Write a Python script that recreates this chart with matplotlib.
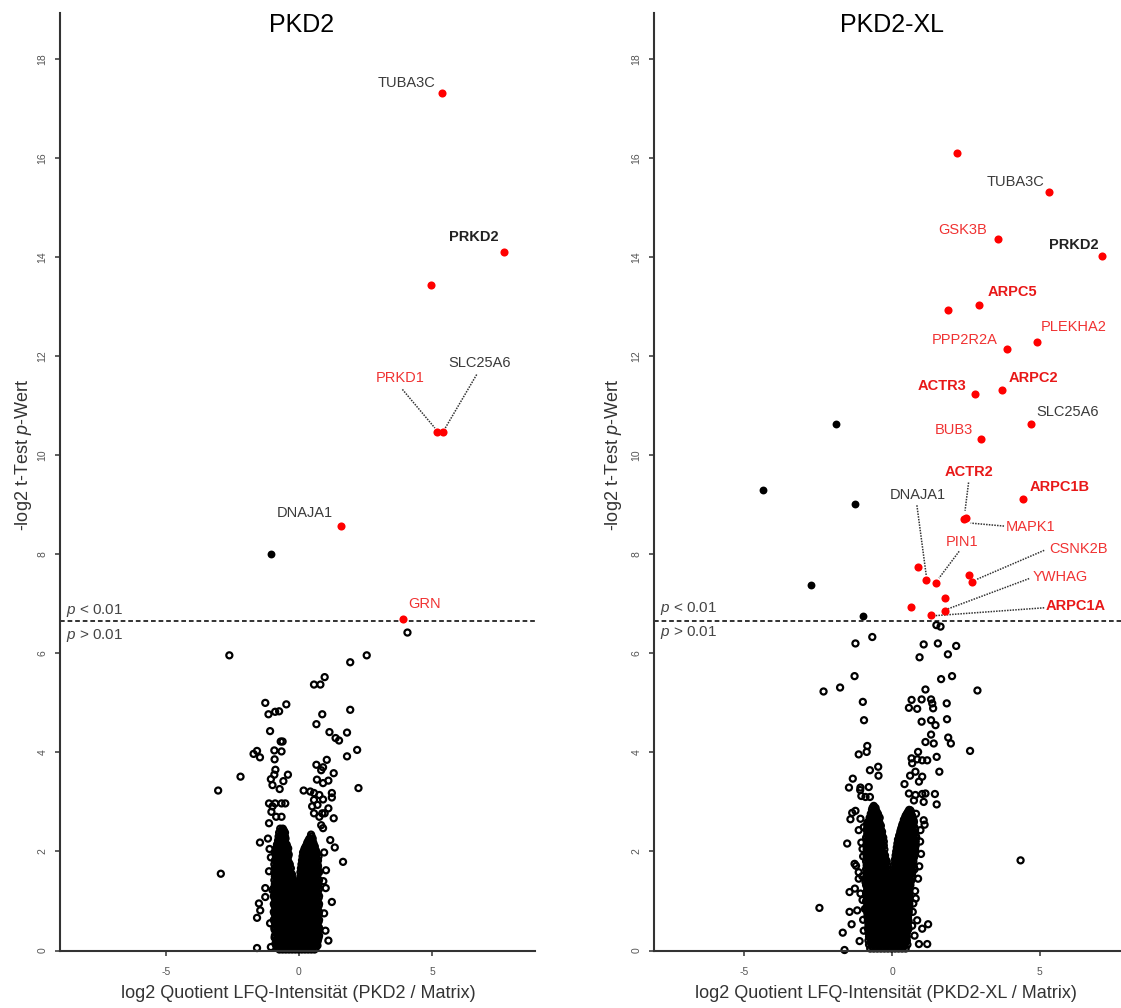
import matplotlib
matplotlib.use("Agg")
import matplotlib.pyplot as plt

# ---------------- DATA ----------------
# PKD2 panel: significant hits
pkd2_red_x = [5.36, 7.69, 4.95, 5.18, 5.40, 1.58, 3.92]
pkd2_red_y = [17.31, 14.10, 13.43, 10.46, 10.46, 8.57, 6.69]
pkd2_red_names = ["TUBA3C", "PRKD2", "", "PRKD1", "SLC25A6", "DNAJA1", "GRN"]
pkd2_black_x = [-1.05]
pkd2_black_y = [8.00]

# PKD2 panel: non-significant proteins (scattered)
pkd2_ns_outer = [
    (4.08, 6.42), (-2.61, 5.96), (2.55, 5.96), (1.93, 5.82), (0.97, 5.52), (0.57, 5.37), (0.81, 5.37),
    (-1.26, 5.00), (-0.47, 4.97), (-1.14, 4.77), (-0.89, 4.82), (-0.74, 4.83), (1.93, 4.86), (0.88, 4.77),
    (0.66, 4.57), (-1.08, 4.43), (1.15, 4.41), (1.38, 4.29), (1.51, 4.24), (1.81, 4.40), (-0.68, 4.22),
    (-0.61, 4.22), (2.19, 4.05), (-1.70, 3.97), (-1.57, 4.03), (-1.46, 3.90), (-0.92, 4.04), (-0.65, 4.02),
    (-0.91, 3.86), (1.05, 3.85), (1.81, 3.92), (0.66, 3.75), (0.91, 3.70), (0.84, 3.64), (1.31, 3.58),
    (-2.19, 3.51), (-0.88, 3.65), (-0.92, 3.55), (-1.05, 3.46), (-0.41, 3.55), (-0.58, 3.42), (0.68, 3.45),
    (1.11, 3.43), (0.91, 3.38), (-0.99, 3.34), (-0.72, 3.26), (2.24, 3.28), (-3.03, 3.23), (0.18, 3.23),
    (0.43, 3.21), (0.57, 3.18), (0.77, 3.14), (1.24, 3.18), (1.24, 3.09), (-1.12, 2.97), (-0.89, 2.97),
    (-0.65, 2.97), (-0.51, 2.97), (0.57, 3.04), (0.70, 2.94), (0.91, 3.05), (0.50, 2.91), (1.11, 2.87),
    (-0.99, 2.91), (-1.03, 2.80), (-0.85, 2.70), (-0.65, 2.70), (0.57, 2.77), (0.77, 2.70), (0.88, 2.77),
    (0.97, 2.77), (1.31, 2.67), (-1.12, 2.57), (0.84, 2.53), (0.91, 2.47), (-1.46, 2.18), (-1.16, 2.26),
    (1.18, 2.23), (1.35, 2.08), (1.66, 1.79), (-2.93, 1.55), (-1.26, 1.26), (-0.99, 1.22), (-1.26, 1.08),
    (1.01, 1.26), (1.24, 0.98), (-1.50, 0.95), (-1.45, 0.81), (-1.57, 0.66), (1.11, 0.20), (-1.57, 0.05),
    (-1.05, 0.07), (-0.85, 0.14), (-1.10, 2.05), (-1.05, 1.88), (-1.12, 1.60), (0.95, 1.98), (1.02, 1.62),
    (0.92, 1.40), (-1.08, 0.55), (1.00, 0.40), (0.95, 0.75),
]
# PKD2 panel: dense core, read row by row (y, x positions)
pkd2_ns_core_rows = [
    (2.46, [-0.70, -0.60]),
    (2.42, [-0.66, -0.56]),
    (2.38, [-0.74, -0.62, -0.52]),
    (2.34, [-0.68, -0.58, 0.46]),
    (2.30, [-0.76, -0.64, -0.52, 0.48]),
    (2.26, [-0.72, -0.60, -0.50, 0.40, 0.52]),
    (2.22, [-0.78, -0.66, -0.54, 0.36, 0.48]),
    (2.18, [-0.76, -0.64, -0.52, 0.32, 0.44, 0.54]),
    (2.14, [-0.82, -0.70, -0.58, -0.46, 0.30, 0.42, 0.56]),
    (2.10, [-0.80, -0.68, -0.56, -0.44, 0.26, 0.38, 0.50, 0.60]),
    (2.06, [-0.86, -0.74, -0.62, -0.50, -0.40, 0.22, 0.34, 0.46, 0.58]),
    (2.02, [-0.84, -0.72, -0.60, -0.48, 0.20, 0.30, 0.42, 0.54, 0.64]),
    (1.98, [-0.90, -0.78, -0.66, -0.54, -0.42, 0.16, 0.28, 0.40, 0.52, 0.64]),
    (1.94, [-0.84, -0.72, -0.60, -0.48, -0.38, 0.20, 0.32, 0.44, 0.56, 0.68]),
    (1.90, [-0.86, -0.74, -0.62, -0.50, -0.40, 0.14, 0.26, 0.38, 0.50, 0.62, 0.74]),
    (1.86, [-0.80, -0.68, -0.56, -0.44, 0.18, 0.30, 0.42, 0.54, 0.66]),
    (1.82, [-0.90, -0.78, -0.66, -0.54, -0.42, 0.12, 0.24, 0.36, 0.48, 0.60, 0.72]),
    (1.78, [-0.84, -0.72, -0.60, -0.48, -0.38, 0.16, 0.28, 0.40, 0.52, 0.64]),
    (1.74, [-0.92, -0.80, -0.68, -0.56, -0.44, -0.34, 0.10, 0.22, 0.34, 0.46, 0.58, 0.70]),
    (1.70, [-0.86, -0.74, -0.62, -0.50, -0.38, 0.14, 0.26, 0.38, 0.50, 0.62, 0.72]),
    (1.66, [-0.90, -0.78, -0.66, -0.54, -0.42, -0.30, 0.08, 0.20, 0.32, 0.44, 0.56, 0.68]),
    (1.62, [-0.84, -0.72, -0.60, -0.48, -0.36, 0.12, 0.24, 0.36, 0.48, 0.60, 0.72]),
    (1.58, [-0.92, -0.80, -0.68, -0.56, -0.44, -0.32, 0.06, 0.18, 0.30, 0.42, 0.54, 0.66, 0.76]),
    (1.54, [-0.86, -0.74, -0.62, -0.50, -0.38, -0.26, 0.12, 0.24, 0.36, 0.48, 0.60, 0.70]),
    (1.50, [-0.90, -0.78, -0.66, -0.54, -0.42, -0.28, 0.06, 0.18, 0.30, 0.42, 0.54, 0.66]),
    (1.46, [-0.84, -0.72, -0.60, -0.48, -0.36, -0.24, 0.10, 0.22, 0.34, 0.46, 0.58, 0.70]),
    (1.42, [-0.92, -0.80, -0.68, -0.56, -0.44, -0.32, -0.20, 0.04, 0.16, 0.28, 0.40, 0.52, 0.64, 0.76]),
    (1.38, [-0.86, -0.74, -0.62, -0.50, -0.38, -0.26, -0.16, 0.08, 0.20, 0.32, 0.44, 0.56, 0.68]),
    (1.34, [-0.90, -0.78, -0.66, -0.54, -0.42, -0.30, -0.18, 0.02, 0.14, 0.26, 0.38, 0.50, 0.62, 0.74]),
    (1.30, [-0.84, -0.72, -0.60, -0.48, -0.36, -0.24, -0.14, 0.08, 0.20, 0.32, 0.44, 0.56, 0.68]),
    (1.26, [-0.94, -0.82, -0.70, -0.58, -0.46, -0.34, -0.22, -0.10, 0.02, 0.14, 0.26, 0.38, 0.50, 0.62, 0.76]),
    (1.22, [-0.91, -0.79, -0.67, -0.55, -0.43, -0.31, -0.19, -0.07, 0.05, 0.17, 0.29, 0.41, 0.53, 0.65, 0.74]),
    (1.18, [-0.88, -0.76, -0.64, -0.52, -0.40, -0.28, -0.16, -0.04, 0.08, 0.20, 0.32, 0.44, 0.56, 0.68]),
    (1.14, [-0.85, -0.73, -0.61, -0.49, -0.37, -0.25, -0.13, -0.01, 0.11, 0.23, 0.35, 0.47, 0.59, 0.70]),
    (1.10, [-0.94, -0.82, -0.70, -0.58, -0.46, -0.34, -0.22, -0.10, 0.02, 0.14, 0.26, 0.38, 0.50, 0.62, 0.76]),
    (1.06, [-0.91, -0.79, -0.67, -0.55, -0.43, -0.31, -0.19, -0.07, 0.05, 0.17, 0.29, 0.41, 0.53, 0.65, 0.74]),
    (1.02, [-0.88, -0.76, -0.64, -0.52, -0.40, -0.28, -0.16, -0.04, 0.08, 0.20, 0.32, 0.44, 0.56, 0.68]),
    (0.98, [-0.85, -0.73, -0.61, -0.49, -0.37, -0.25, -0.13, -0.01, 0.11, 0.23, 0.35, 0.47, 0.59, 0.70]),
    (0.94, [-0.94, -0.82, -0.70, -0.58, -0.46, -0.34, -0.22, -0.10, 0.02, 0.14, 0.26, 0.38, 0.50, 0.62, 0.76]),
    (0.90, [-0.91, -0.79, -0.67, -0.55, -0.43, -0.31, -0.19, -0.07, 0.05, 0.17, 0.29, 0.41, 0.53, 0.65, 0.74]),
    (0.86, [-0.88, -0.76, -0.64, -0.52, -0.40, -0.28, -0.16, -0.04, 0.08, 0.20, 0.32, 0.44, 0.56, 0.68]),
    (0.82, [-0.85, -0.73, -0.61, -0.49, -0.37, -0.25, -0.13, -0.01, 0.11, 0.23, 0.35, 0.47, 0.59, 0.70]),
    (0.78, [-0.94, -0.82, -0.70, -0.58, -0.46, -0.34, -0.22, -0.10, 0.02, 0.14, 0.26, 0.38, 0.50, 0.62, 0.76]),
    (0.74, [-0.91, -0.79, -0.67, -0.55, -0.43, -0.31, -0.19, -0.07, 0.05, 0.17, 0.29, 0.41, 0.53, 0.65, 0.74]),
    (0.70, [-0.88, -0.76, -0.64, -0.52, -0.40, -0.28, -0.16, -0.04, 0.08, 0.20, 0.32, 0.44, 0.56, 0.68]),
    (0.66, [-0.85, -0.73, -0.61, -0.49, -0.37, -0.25, -0.13, -0.01, 0.11, 0.23, 0.35, 0.47, 0.59, 0.70]),
    (0.62, [-0.94, -0.82, -0.70, -0.58, -0.46, -0.34, -0.22, -0.10, 0.02, 0.14, 0.26, 0.38, 0.50, 0.62, 0.76]),
    (0.58, [-0.91, -0.79, -0.67, -0.55, -0.43, -0.31, -0.19, -0.07, 0.05, 0.17, 0.29, 0.41, 0.53, 0.65, 0.74]),
    (0.54, [-0.88, -0.76, -0.64, -0.52, -0.40, -0.28, -0.16, -0.04, 0.08, 0.20, 0.32, 0.44, 0.56, 0.68]),
    (0.50, [-0.85, -0.73, -0.61, -0.49, -0.37, -0.25, -0.13, -0.01, 0.11, 0.23, 0.35, 0.47, 0.59, 0.70]),
    (0.46, [-0.92, -0.80, -0.68, -0.56, -0.44, -0.32, -0.20, -0.08, 0.04, 0.16, 0.28, 0.40, 0.52, 0.64, 0.76]),
    (0.42, [-0.91, -0.79, -0.67, -0.55, -0.43, -0.31, -0.19, -0.07, 0.05, 0.17, 0.29, 0.41, 0.53, 0.65, 0.74]),
    (0.38, [-0.86, -0.74, -0.62, -0.50, -0.38, -0.26, -0.14, -0.02, 0.10, 0.22, 0.34, 0.46, 0.58, 0.70]),
    (0.34, [-0.85, -0.73, -0.61, -0.49, -0.37, -0.25, -0.13, -0.01, 0.11, 0.23, 0.35, 0.47, 0.59, 0.70]),
    (0.30, [-0.90, -0.78, -0.66, -0.54, -0.42, -0.30, -0.18, -0.06, 0.06, 0.18, 0.30, 0.42, 0.54, 0.66, 0.76]),
    (0.26, [-0.91, -0.79, -0.67, -0.55, -0.43, -0.31, -0.19, -0.07, 0.05, 0.17, 0.29, 0.41, 0.53, 0.65, 0.74]),
    (0.22, [-0.84, -0.72, -0.60, -0.48, -0.36, -0.24, -0.12, 0.00, 0.12, 0.24, 0.36, 0.48, 0.60, 0.72]),
    (0.18, [-0.85, -0.73, -0.61, -0.49, -0.37, -0.25, -0.13, -0.01, 0.11, 0.23, 0.35, 0.47, 0.59, 0.70]),
    (0.14, [-0.88, -0.76, -0.64, -0.52, -0.40, -0.28, -0.16, -0.04, 0.08, 0.20, 0.32, 0.44, 0.56, 0.68]),
    (0.10, [-0.85, -0.73, -0.61, -0.49, -0.37, -0.25, -0.13, -0.01, 0.11, 0.23, 0.35, 0.47, 0.59, 0.70]),
    (0.06, [-0.80, -0.68, -0.56, -0.44, -0.32, -0.20, -0.08, 0.04, 0.16, 0.28, 0.40, 0.52, 0.64]),
    (0.02, [-0.73, -0.61, -0.49, -0.37, -0.25, -0.13, -0.01, 0.11, 0.23, 0.35, 0.47, 0.59]),
]

# PKD2-XL panel: significant hits
xl_red_x = [2.19, 5.32, 3.57, 7.12, 1.91, 2.95, 3.89, 4.90, 2.81, 3.71, 4.72, 3.01, 4.43,
            2.50, 2.43, 0.88, 1.16, 1.49, 2.62, 2.72, 1.78, 0.65, 1.78, 1.31]
xl_red_y = [16.11, 15.31, 14.37, 14.03, 12.93, 13.03, 12.14, 12.28, 11.23, 11.31, 10.64, 10.32, 9.11,
            8.73, 8.71, 7.74, 7.48, 7.43, 7.58, 7.45, 7.11, 6.94, 6.86, 6.77]
xl_red_names = ["", "TUBA3C", "GSK3B", "PRKD2", "", "ARPC5", "PPP2R2A", "PLEKHA2", "ACTR3", "ARPC2",
                "SLC25A6", "BUB3", "ARPC1B", "ACTR2", "MAPK1", "", "DNAJA1", "PIN1", "", "CSNK2B",
                "", "", "YWHAG", "ARPC1A"]
xl_black_x = [-1.91, -4.37, -1.25, -2.76, -0.97]
xl_black_y = [10.64, 9.30, 9.02, 7.39, 6.76]

xl_ns_outer = [
    (1.50, 6.57), (1.64, 6.54), (-0.67, 6.33), (-1.24, 6.20), (1.07, 6.18), (1.55, 6.20), (2.17, 6.15),
    (1.89, 5.98), (0.93, 5.92), (-1.27, 5.54), (2.03, 5.54), (1.66, 5.48), (-2.32, 5.23), (-1.76, 5.31),
    (1.13, 5.27), (2.89, 5.25), (0.66, 5.06), (1.00, 5.07), (1.32, 5.07), (1.36, 4.99), (1.85, 4.99),
    (-0.99, 5.02), (0.57, 4.90), (0.85, 4.88), (1.39, 4.89), (-0.95, 4.65), (1.00, 4.62), (1.32, 4.65),
    (1.47, 4.55), (1.86, 4.67), (1.32, 4.36), (1.90, 4.30), (1.13, 4.21), (1.41, 4.18), (1.99, 4.18),
    (-0.84, 4.13), (-0.86, 4.01), (-1.13, 3.96), (2.64, 4.03), (0.88, 4.01), (1.51, 3.91), (0.66, 3.88),
    (0.85, 3.86), (1.02, 3.84), (1.19, 3.84), (0.68, 3.78), (1.60, 3.61), (-0.47, 3.71), (-0.75, 3.64),
    (-0.46, 3.53), (-1.33, 3.47), (0.61, 3.53), (0.79, 3.61), (1.02, 3.51), (0.42, 3.36), (0.91, 3.41),
    (-1.46, 3.29), (-1.07, 3.29), (-0.79, 3.30), (-1.04, 3.12), (-0.90, 3.10), (-0.75, 3.10), (-1.08, 3.24),
    (0.57, 3.17), (0.79, 3.14), (1.02, 3.16), (1.13, 3.17), (1.45, 3.16), (1.51, 2.95), (0.74, 3.03),
    (1.07, 3.00), (-1.35, 2.78), (-1.41, 2.65), (-1.24, 2.82), (-1.07, 2.66), (-0.84, 2.58), (-0.67, 2.55),
    (-0.96, 2.49), (-0.81, 2.43), (-1.13, 2.43), (0.62, 2.83), (0.81, 2.76), (1.07, 2.63), (1.10, 2.54),
    (0.96, 2.43), (-1.52, 2.16), (-1.04, 2.18), (-1.27, 1.75), (-1.13, 1.58), (-1.01, 1.50), (-1.22, 1.71),
    (-0.90, 1.38), (-0.84, 1.21), (4.35, 1.82), (-1.44, 1.18), (-1.26, 1.25), (-1.13, 1.45), (-1.07, 1.15),
    (-2.46, 0.86), (-1.44, 0.78), (-1.18, 0.81), (-0.92, 0.84), (-1.37, 0.53), (-1.67, 0.36), (-1.10, 0.19),
    (-1.61, 0.01), (1.22, 0.53), (0.85, 0.61), (1.02, 0.44), (0.91, 0.13), (1.19, 0.13), (0.09, 1.52),
    (0.23, 1.96), (0.28, 1.75), (-1.00, 2.05), (-0.98, 1.90), (0.95, 2.20), (0.98, 1.95), (0.92, 1.70),
    (0.88, 1.45), (0.78, 1.20), (0.72, 0.95), (-1.00, 1.02), (-0.98, 0.62), (-0.96, 0.40), (0.70, 0.78),
    (0.76, 0.30), (0.68, 0.50), (0.80, 1.05),
]
# PKD2-XL panel: dense core, read row by row (y, x positions)
xl_ns_core_rows = [
    (2.92, [-0.62]),
    (2.88, [-0.66, -0.56]),
    (2.84, [-0.68, -0.56, 0.58]),
    (2.80, [-0.64, -0.52, 0.54, 0.64]),
    (2.76, [-0.72, -0.60, -0.48, 0.50, 0.62]),
    (2.72, [-0.70, -0.58, -0.46, 0.46, 0.58, 0.68]),
    (2.68, [-0.76, -0.64, -0.52, -0.42, 0.44, 0.56, 0.68]),
    (2.64, [-0.74, -0.62, -0.50, 0.40, 0.50, 0.62, 0.72]),
    (2.60, [-0.80, -0.68, -0.56, -0.44, 0.40, 0.52, 0.64, 0.74]),
    (2.56, [-0.78, -0.66, -0.54, -0.42, 0.36, 0.48, 0.60, 0.72]),
    (2.52, [-0.84, -0.72, -0.60, -0.48, -0.38, 0.34, 0.46, 0.58, 0.70]),
    (2.48, [-0.80, -0.68, -0.56, -0.44, 0.32, 0.42, 0.54, 0.66, 0.76]),
    (2.44, [-0.86, -0.74, -0.62, -0.50, -0.38, 0.30, 0.42, 0.54, 0.66, 0.78]),
    (2.40, [-0.80, -0.68, -0.56, -0.44, -0.34, 0.28, 0.36, 0.48, 0.60, 0.72]),
    (2.36, [-0.84, -0.72, -0.60, -0.48, -0.36, 0.28, 0.40, 0.52, 0.64, 0.76]),
    (2.32, [-0.82, -0.70, -0.58, -0.46, -0.34, 0.24, 0.34, 0.46, 0.58, 0.70, 0.80]),
    (2.28, [-0.88, -0.76, -0.64, -0.52, -0.40, -0.30, 0.24, 0.36, 0.48, 0.60, 0.72, 0.82]),
    (2.24, [-0.82, -0.70, -0.58, -0.46, -0.34, 0.20, 0.30, 0.42, 0.54, 0.66, 0.76]),
    (2.20, [-0.86, -0.74, -0.62, -0.50, -0.38, -0.28, 0.22, 0.34, 0.46, 0.58, 0.70, 0.80]),
    (2.16, [-0.82, -0.70, -0.58, -0.46, -0.34, 0.18, 0.28, 0.40, 0.52, 0.64, 0.76]),
    (2.12, [-0.88, -0.76, -0.64, -0.52, -0.40, -0.28, 0.20, 0.32, 0.44, 0.56, 0.68, 0.80]),
    (2.08, [-0.82, -0.70, -0.58, -0.46, -0.34, 0.16, 0.26, 0.38, 0.50, 0.62, 0.74]),
    (2.04, [-0.86, -0.74, -0.62, -0.50, -0.38, -0.26, 0.18, 0.30, 0.42, 0.54, 0.66, 0.78]),
    (2.00, [-0.82, -0.70, -0.58, -0.46, -0.34, 0.14, 0.24, 0.36, 0.48, 0.60, 0.72]),
    (1.96, [-0.88, -0.76, -0.64, -0.52, -0.40, -0.28, 0.16, 0.28, 0.40, 0.52, 0.64, 0.76]),
    (1.92, [-0.82, -0.70, -0.58, -0.46, -0.34, -0.24, 0.12, 0.22, 0.34, 0.46, 0.58, 0.70]),
    (1.88, [-0.86, -0.74, -0.62, -0.50, -0.38, -0.26, 0.14, 0.26, 0.38, 0.50, 0.62, 0.74]),
    (1.84, [-0.82, -0.70, -0.58, -0.46, -0.34, -0.22, 0.10, 0.20, 0.32, 0.44, 0.56, 0.68]),
    (1.80, [-0.88, -0.76, -0.64, -0.52, -0.40, -0.28, -0.18, 0.12, 0.24, 0.36, 0.48, 0.60, 0.72]),
    (1.76, [-0.82, -0.70, -0.58, -0.46, -0.34, -0.22, 0.10, 0.18, 0.30, 0.42, 0.54, 0.66]),
    (1.72, [-0.86, -0.74, -0.62, -0.50, -0.38, -0.26, -0.16, 0.12, 0.22, 0.34, 0.46, 0.58, 0.70]),
    (1.68, [-0.82, -0.70, -0.58, -0.46, -0.34, -0.22, 0.10, 0.18, 0.28, 0.40, 0.52, 0.64, 0.74]),
    (1.64, [-0.88, -0.76, -0.64, -0.52, -0.40, -0.28, -0.16, 0.12, 0.20, 0.30, 0.42, 0.54, 0.66, 0.76]),
    (1.60, [-0.82, -0.70, -0.58, -0.46, -0.34, -0.22, -0.12, 0.10, 0.18, 0.26, 0.38, 0.50, 0.62]),
    (1.56, [-0.86, -0.74, -0.62, -0.50, -0.38, -0.26, -0.14, 0.12, 0.20, 0.32, 0.44, 0.56, 0.68]),
    (1.52, [-0.82, -0.70, -0.58, -0.46, -0.34, -0.22, -0.12, 0.10, 0.16, 0.26, 0.38, 0.50, 0.62]),
    (1.48, [-0.88, -0.76, -0.64, -0.52, -0.40, -0.28, -0.16, 0.10, 0.20, 0.32, 0.44, 0.56, 0.68]),
    (1.44, [-0.82, -0.70, -0.58, -0.46, -0.34, -0.22, -0.12, 0.10, 0.16, 0.26, 0.38, 0.50, 0.60]),
    (1.40, [-0.84, -0.72, -0.60, -0.48, -0.36, -0.24, -0.14, 0.10, 0.20, 0.30, 0.42, 0.54, 0.64]),
    (1.36, [-0.82, -0.70, -0.58, -0.46, -0.34, -0.22, -0.12, 0.08, 0.14, 0.24, 0.36, 0.48, 0.58]),
    (1.32, [-0.88, -0.76, -0.64, -0.52, -0.40, -0.28, -0.16, 0.08, 0.18, 0.30, 0.42, 0.54, 0.62]),
    (1.28, [-0.82, -0.70, -0.58, -0.46, -0.34, -0.22, -0.10, 0.06, 0.14, 0.24, 0.36, 0.48, 0.58]),
    (1.24, [-0.84, -0.72, -0.60, -0.48, -0.36, -0.24, -0.12, 0.00, 0.12, 0.24, 0.36, 0.48, 0.58]),
    (1.20, [-0.82, -0.70, -0.58, -0.46, -0.34, -0.22, -0.10, 0.02, 0.14, 0.26, 0.38, 0.50, 0.58]),
    (1.16, [-0.88, -0.76, -0.64, -0.52, -0.40, -0.28, -0.16, -0.04, 0.08, 0.20, 0.32, 0.44, 0.56]),
    (1.12, [-0.82, -0.70, -0.58, -0.46, -0.34, -0.22, -0.10, 0.02, 0.14, 0.26, 0.38, 0.50, 0.58]),
    (1.08, [-0.84, -0.72, -0.60, -0.48, -0.36, -0.24, -0.12, 0.00, 0.12, 0.24, 0.36, 0.48, 0.58]),
    (1.04, [-0.82, -0.70, -0.58, -0.46, -0.34, -0.22, -0.10, 0.02, 0.14, 0.26, 0.38, 0.50, 0.58]),
    (1.00, [-0.88, -0.76, -0.64, -0.52, -0.40, -0.28, -0.16, -0.04, 0.08, 0.20, 0.32, 0.44, 0.56]),
    (0.96, [-0.82, -0.70, -0.58, -0.46, -0.34, -0.22, -0.10, 0.02, 0.14, 0.26, 0.38, 0.50, 0.58]),
    (0.92, [-0.84, -0.72, -0.60, -0.48, -0.36, -0.24, -0.12, 0.00, 0.12, 0.24, 0.36, 0.48, 0.58]),
    (0.88, [-0.82, -0.70, -0.58, -0.46, -0.34, -0.22, -0.10, 0.02, 0.14, 0.26, 0.38, 0.50, 0.58]),
    (0.84, [-0.86, -0.76, -0.64, -0.52, -0.40, -0.28, -0.16, -0.04, 0.08, 0.20, 0.32, 0.44, 0.56]),
    (0.80, [-0.82, -0.70, -0.58, -0.46, -0.34, -0.22, -0.10, 0.02, 0.14, 0.26, 0.38, 0.50, 0.56]),
    (0.76, [-0.84, -0.72, -0.60, -0.48, -0.36, -0.24, -0.12, 0.00, 0.12, 0.24, 0.36, 0.48, 0.56]),
    (0.72, [-0.80, -0.70, -0.58, -0.46, -0.34, -0.22, -0.10, 0.02, 0.14, 0.26, 0.38, 0.50]),
    (0.68, [-0.84, -0.76, -0.64, -0.52, -0.40, -0.28, -0.16, -0.04, 0.08, 0.20, 0.32, 0.44, 0.54]),
    (0.64, [-0.80, -0.70, -0.58, -0.46, -0.34, -0.22, -0.10, 0.02, 0.14, 0.26, 0.38, 0.50]),
    (0.60, [-0.82, -0.72, -0.60, -0.48, -0.36, -0.24, -0.12, 0.00, 0.12, 0.24, 0.36, 0.48, 0.56]),
    (0.56, [-0.76, -0.64, -0.52, -0.40, -0.28, -0.16, -0.04, 0.08, 0.20, 0.32, 0.44, 0.54]),
    (0.52, [-0.80, -0.70, -0.58, -0.46, -0.34, -0.22, -0.10, 0.02, 0.14, 0.26, 0.38, 0.50]),
    (0.48, [-0.76, -0.64, -0.52, -0.40, -0.28, -0.16, -0.04, 0.08, 0.20, 0.32, 0.44, 0.54]),
    (0.44, [-0.82, -0.72, -0.60, -0.48, -0.36, -0.24, -0.12, 0.00, 0.12, 0.24, 0.36, 0.48, 0.56]),
    (0.40, [-0.76, -0.64, -0.52, -0.40, -0.28, -0.16, -0.04, 0.08, 0.20, 0.32, 0.44, 0.52]),
    (0.36, [-0.80, -0.70, -0.58, -0.46, -0.34, -0.22, -0.10, 0.02, 0.14, 0.26, 0.38, 0.50]),
    (0.32, [-0.74, -0.62, -0.50, -0.38, -0.26, -0.14, -0.02, 0.10, 0.22, 0.34, 0.46]),
    (0.28, [-0.78, -0.68, -0.56, -0.44, -0.32, -0.20, -0.08, 0.04, 0.16, 0.28, 0.40, 0.50]),
    (0.24, [-0.74, -0.62, -0.50, -0.38, -0.26, -0.14, -0.02, 0.10, 0.22, 0.34, 0.46]),
    (0.20, [-0.80, -0.70, -0.58, -0.46, -0.34, -0.22, -0.10, 0.02, 0.14, 0.26, 0.38, 0.50]),
    (0.16, [-0.72, -0.60, -0.48, -0.36, -0.24, -0.12, 0.00, 0.12, 0.24, 0.36, 0.46]),
    (0.12, [-0.78, -0.66, -0.54, -0.42, -0.30, -0.18, -0.06, 0.06, 0.18, 0.30, 0.42, 0.52]),
    (0.08, [-0.68, -0.56, -0.44, -0.32, -0.20, -0.08, 0.04, 0.16, 0.28, 0.40]),
    (0.04, [-0.74, -0.62, -0.50, -0.38, -0.26, -0.14, -0.02, 0.10, 0.22, 0.34, 0.46]),
]

p_threshold = 6.644  # -log2(0.01)
y_ticks = [0, 2, 4, 6, 8, 10, 12, 14, 16, 18]
x_ticks = [-5, 0, 5]
titles = ["PKD2", "PKD2-XL"]
xlabels = ["log2 Quotient LFQ-Intensität (PKD2 / Matrix)",
           "log2 Quotient LFQ-Intensität (PKD2-XL / Matrix)"]
ylabel = r"-log2 t-Test $\it{p}$-Wert"

# ---------------- LAYOUT (label placement / styles) ----------------
# name: (text_x, text_y, ha, style, leader or None)
pkd2_labels = {
    "TUBA3C": (5.11, 17.52, "right", "gray", None),
    "PRKD2": (6.58, 14.40, "center", "gray_bold", None),
    "PRKD1": (3.80, 11.56, "center", "red", ((3.89, 11.33), (5.11, 10.55))),
    "SLC25A6": (6.80, 11.86, "center", "gray", ((6.68, 11.63), (5.50, 10.55))),
    "DNAJA1": (0.23, 8.83, "center", "gray", None),
    "GRN": (4.73, 6.99, "center", "red", None),
}
xl_labels = {
    "TUBA3C": (5.15, 15.51, "right", "gray", None),
    "GSK3B": (3.22, 14.55, "right", "red", None),
    "PRKD2": (6.98, 14.24, "right", "gray_bold", None),
    "ARPC5": (3.25, 13.30, "left", "red_bold", None),
    "PPP2R2A": (3.59, 12.32, "right", "red", None),
    "PLEKHA2": (5.04, 12.59, "left", "red", None),
    "ACTR3": (2.50, 11.40, "right", "red_bold", None),
    "ARPC2": (3.93, 11.57, "left", "red_bold", None),
    "SLC25A6": (5.93, 10.87, "center", "gray", None),
    "BUB3": (2.09, 10.51, "center", "red", None),
    "ACTR2": (2.59, 9.66, "center", "red_bold", ((2.59, 9.45), (2.47, 8.88))),
    "ARPC1B": (5.68, 9.35, "center", "red_bold", None),
    "DNAJA1": (0.86, 9.19, "center", "gray", ((0.84, 8.99), (1.16, 7.56))),
    "MAPK1": (4.70, 8.55, "center", "red", ((3.79, 8.57), (2.66, 8.63))),
    "PIN1": (2.36, 8.25, "center", "red", ((2.27, 8.06), (1.59, 7.52))),
    "CSNK2B": (6.30, 8.10, "center", "red", ((5.15, 8.08), (2.85, 7.49))),
    "YWHAG": (5.71, 7.54, "center", "red", ((4.64, 7.51), (1.90, 6.90))),
    "ARPC1A": (6.22, 6.95, "center", "red_bold", ((5.15, 6.92), (1.43, 6.76))),
}
STYLES = {
    "gray": dict(color="#3a3a3a", fontweight="normal"),
    "gray_bold": dict(color="#222222", fontweight="bold"),
    "red": dict(color="#f03232", fontweight="normal"),
    "red_bold": dict(color="#e81818", fontweight="bold"),
}

# ---------------- PLOT ----------------
plt.rcParams["font.family"] = ["Liberation Sans", "DejaVu Sans"]
plt.rcParams["mathtext.fontset"] = "custom"
plt.rcParams["mathtext.rm"] = "Liberation Sans"
plt.rcParams["mathtext.it"] = "Liberation Sans:italic"
plt.rcParams["axes.unicode_minus"] = False

W, H = 1121, 1008
fig = plt.figure(figsize=(W / 100, H / 100), dpi=100)


def rect(l, t, r, b):
    return [l / W, 1 - b / H, (r - l) / W, (b - t) / H]


def draw_panel(ax, outer, core_rows, bx, by, rx, ry, names, labels, xlim, title, xlabel,
               title_px, xlabel_px, ylabel_px, ptext_y):
    ax.set_xlim(*xlim)
    ax.set_ylim(0, 18.93)
    for s in ("top", "right"):
        ax.spines[s].set_visible(False)
    for s in ("left", "bottom"):
        ax.spines[s].set_linewidth(1.5)
        ax.spines[s].set_color("#333333")
    ax.set_xticks(x_ticks)
    ax.set_yticks(y_ticks)
    ax.tick_params(axis="both", length=3.6, width=1.1, color="#333333",
                   labelsize=7.5, labelcolor="#555555")
    ax.tick_params(axis="x", pad=8)
    ax.tick_params(axis="y", pad=5.5)
    for lab in ax.get_yticklabels():
        lab.set_rotation(90)
        lab.set_va("center")

    ox = [p[0] for p in outer]
    oy = [p[1] for p in outer]
    for yv, xs in core_rows:
        ox.extend(xs)
        oy.extend([yv] * len(xs))
    ax.scatter(ox, oy, s=19, facecolors="none", edgecolors="black", linewidths=1.6,
               zorder=2, clip_on=False)
    ax.scatter(bx, by, s=32, color="black", linewidths=0, zorder=3)
    ax.scatter(rx, ry, s=34, color="#ff0000", linewidths=0, zorder=4)

    ax.axhline(p_threshold, color="#222222", lw=1.3, ls=(0, (2.6, 1.6)), zorder=1)
    ax.text(0.013, ptext_y[0], r"$\it{p}$ < 0.01", transform=ax.get_yaxis_transform(),
            fontsize=11, color="#444444", ha="left", va="center")
    ax.text(0.013, ptext_y[1], r"$\it{p}$ > 0.01", transform=ax.get_yaxis_transform(),
            fontsize=11, color="#444444", ha="left", va="center")

    for nm in names:
        if not nm or nm not in labels:
            continue
        tx, ty, ha, st, leader = labels[nm]
        ax.text(tx, ty, nm, ha=ha, va="center", fontsize=10.5, zorder=5, **STYLES[st])
        if leader is not None:
            (x1, y1), (x2, y2) = leader
            ax.plot([x1, x2], [y1, y2], color="#333333", lw=1.1, ls=(0, (1, 0.8)), zorder=3)

    fig.text(title_px[0] / W, 1 - title_px[1] / H, title, fontsize=18, ha="center",
             va="center", color="black")
    fig.text(xlabel_px[0] / W, 1 - xlabel_px[1] / H, xlabel, fontsize=13, ha="center",
             va="center", color="#333333")
    fig.text(ylabel_px[0] / W, 1 - ylabel_px[1] / H, ylabel, fontsize=13, ha="center",
             va="center", rotation=90, color="#333333")


axL = fig.add_axes(rect(60, 13, 535, 950.5))
axR = fig.add_axes(rect(654, 13, 1121, 950.5))

draw_panel(axL, pkd2_ns_outer, pkd2_ns_core_rows, pkd2_black_x, pkd2_black_y,
           pkd2_red_x, pkd2_red_y, pkd2_red_names, pkd2_labels, (-8.97, 8.87),
           titles[0], xlabels[0], (302, 25), (298, 994), (24, 455), (6.86, 6.36))
draw_panel(axR, xl_ns_outer, xl_ns_core_rows, xl_black_x, xl_black_y,
           xl_red_x, xl_red_y, xl_red_names, xl_labels, (-8.06, 7.75),
           titles[1], xlabels[1], (892, 25), (886, 994), (613, 455), (6.91, 6.42))

fig.savefig("out.png", dpi=100)
